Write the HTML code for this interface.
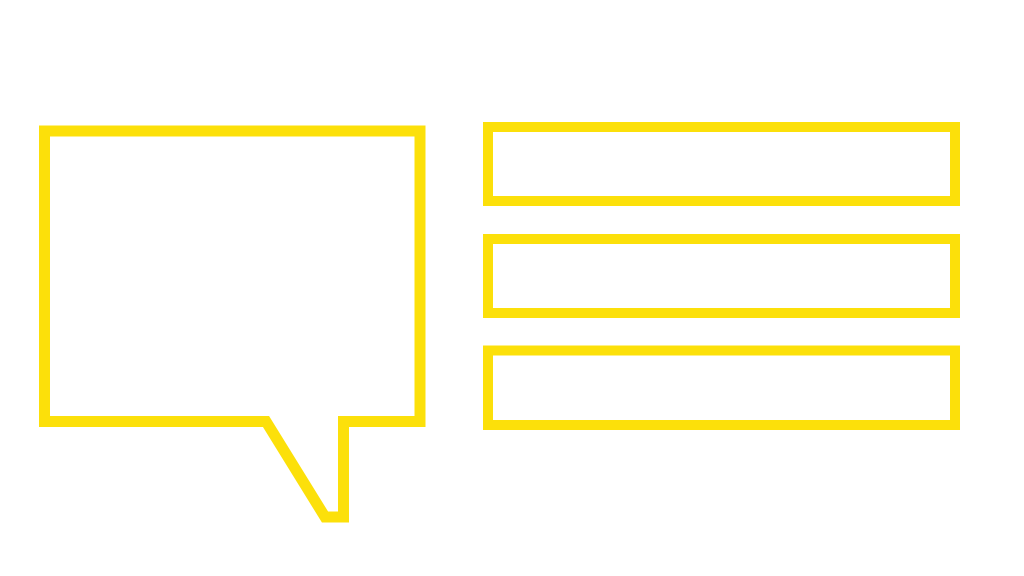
<!DOCTYPE html>
<html><head><style>html,body{margin:0;padding:0;background:#fff;width:1024px;height:576px;overflow:hidden}</style></head>
<body>
<svg width="1024" height="576" viewBox="0 0 1024 576" xmlns="http://www.w3.org/2000/svg">
<g fill="none" stroke="#FCE00A" stroke-width="11" stroke-linejoin="miter">
<path d="M44.5 131 H420 V421.5 H343.5 V517 H325 L266 421.5 H44.5 Z"/>
<rect x="488" y="127" width="467" height="74" stroke-width="10"/>
<rect x="488" y="239" width="467" height="74" stroke-width="10"/>
<rect x="488" y="350.5" width="467" height="74.5" stroke-width="10"/>
</g>
</svg>
</body></html>
